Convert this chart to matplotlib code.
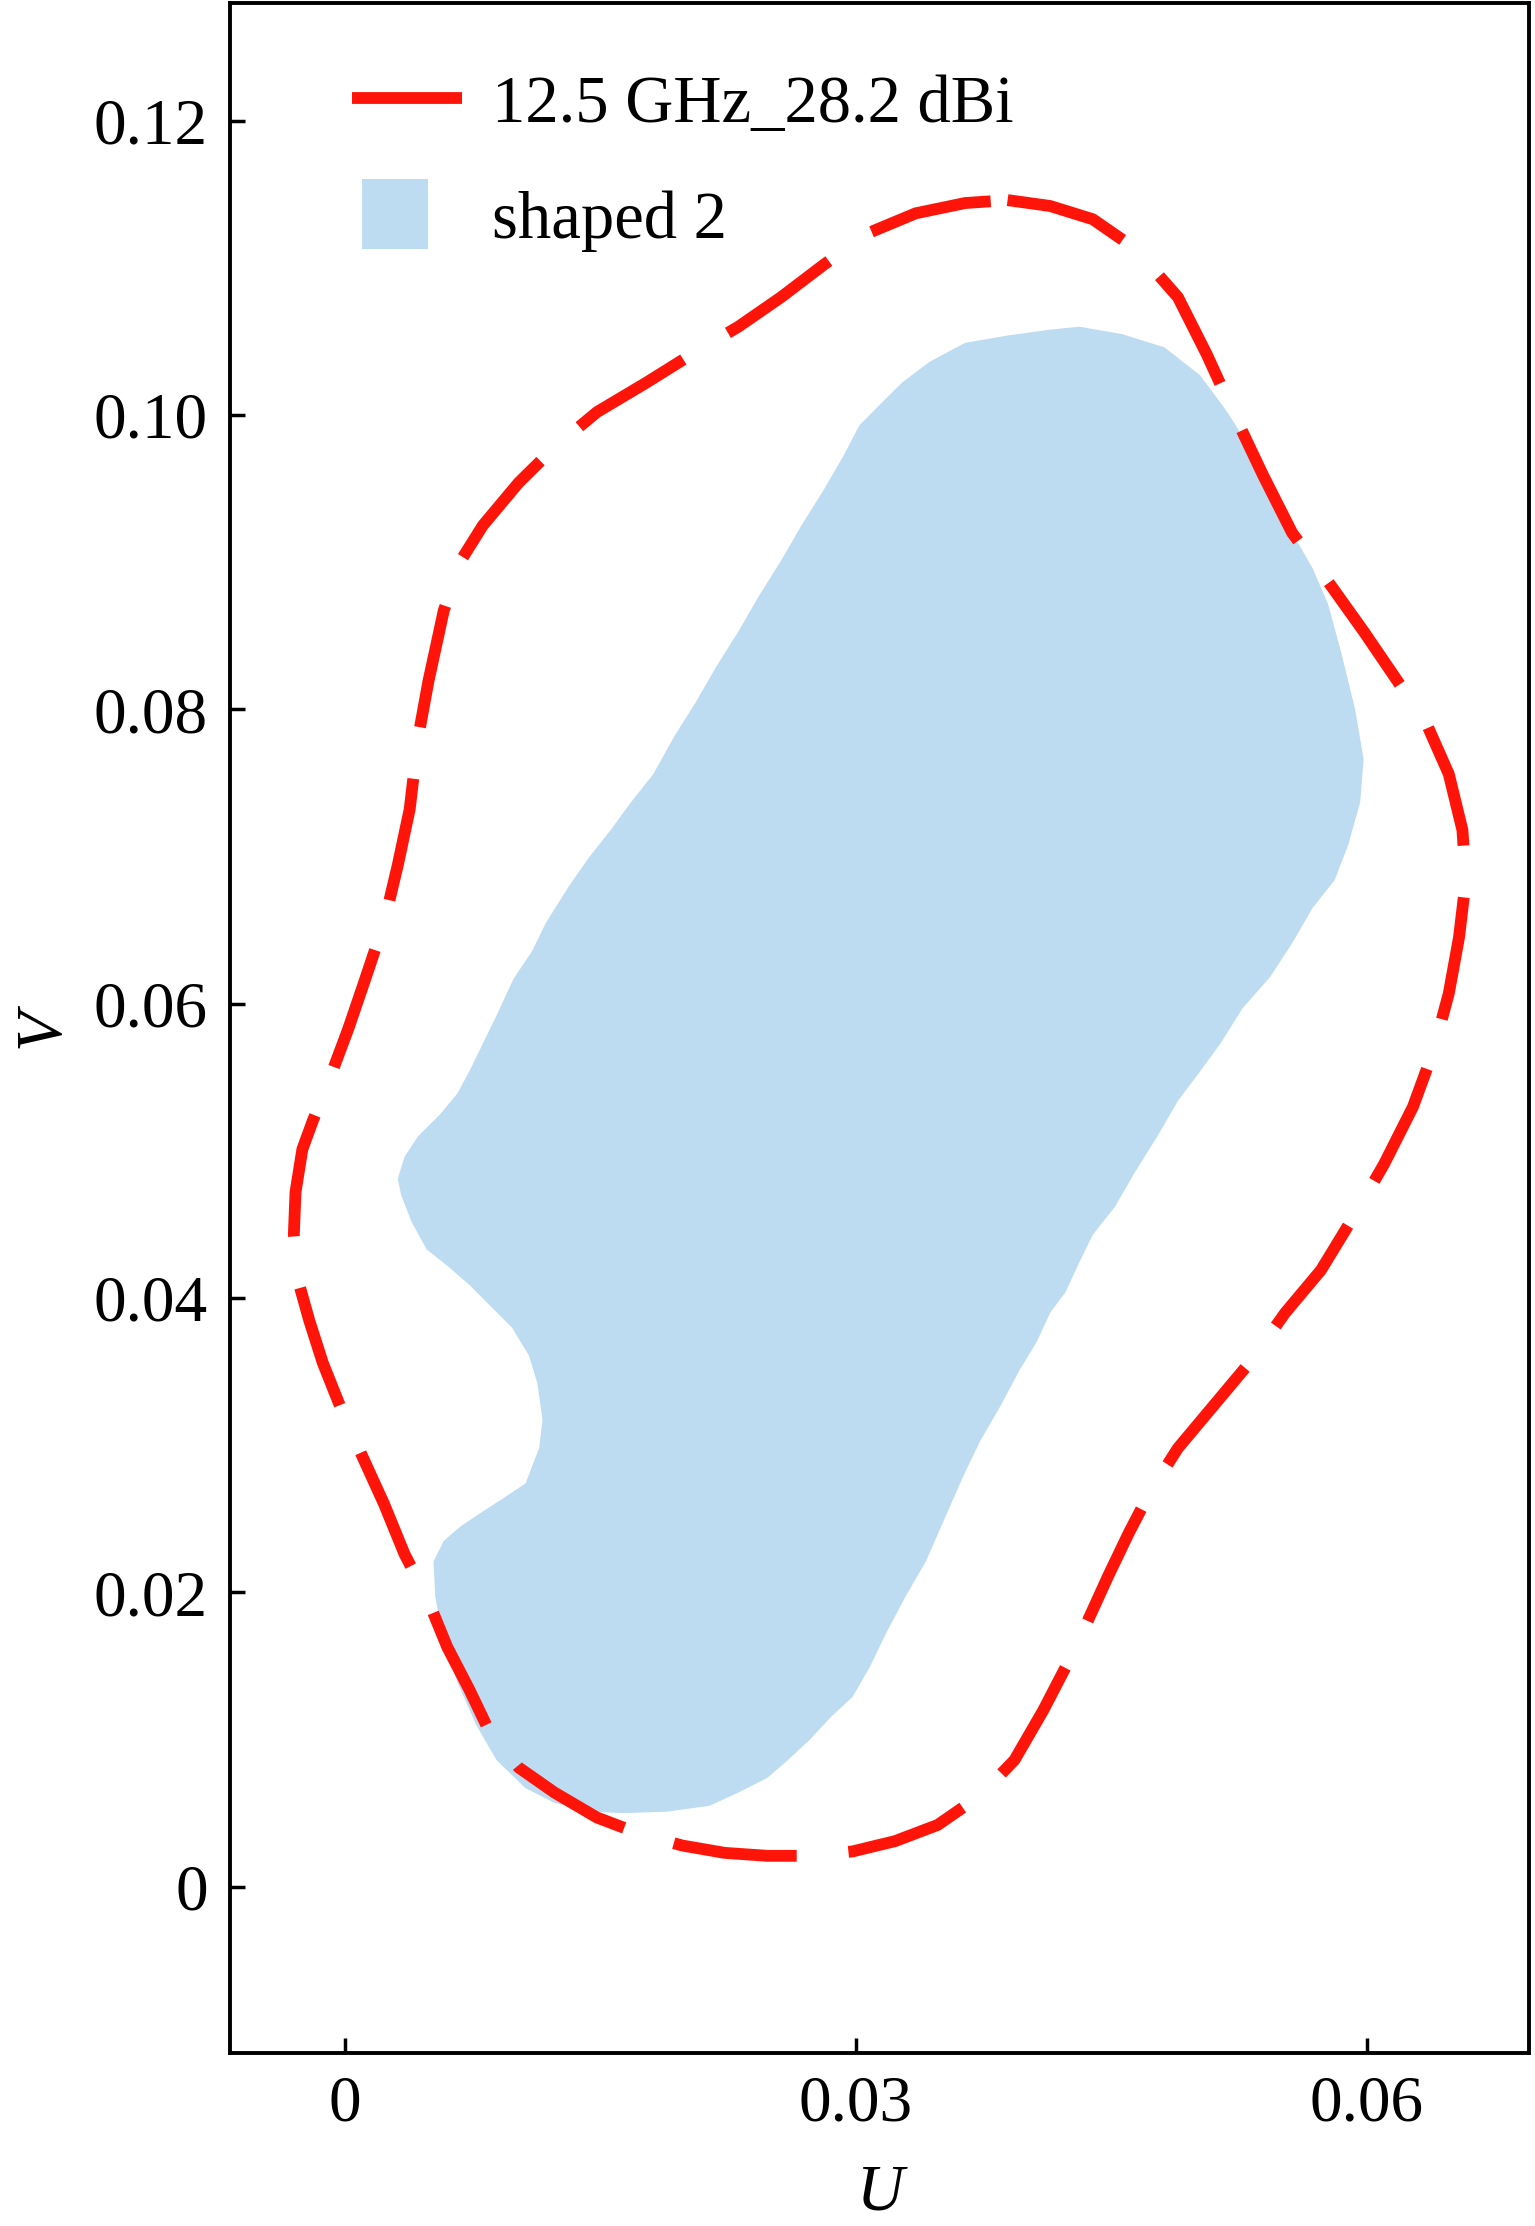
import numpy as np
import matplotlib
matplotlib.use('Agg')
import matplotlib.pyplot as plt
from matplotlib.lines import Line2D
from matplotlib.patches import Rectangle
from matplotlib.legend_handler import HandlerPatch

plt.rcParams['font.family'] = ['Liberation Serif', 'DejaVu Serif']
plt.rcParams['mathtext.fontset'] = 'stix'

# 12.5 GHz contour (U, V), traced clockwise from the top
contour_u = [0.0389, 0.0414, 0.0439, 0.0464, 0.0489, 0.0506, 0.0523, 0.0539, 0.0556, 0.0577,
             0.0598, 0.0618, 0.0635, 0.0648, 0.0656, 0.0658, 0.0654, 0.0648, 0.0639, 0.0627,
             0.0610, 0.0593, 0.0573, 0.0552, 0.0531, 0.0510, 0.0489, 0.0473, 0.0460, 0.0448,
             0.0435, 0.0423, 0.0410, 0.0393, 0.0373, 0.0348, 0.0323, 0.0298, 0.0273, 0.0248,
             0.0223, 0.0198, 0.0173, 0.0148, 0.0123, 0.0102, 0.0085, 0.0073, 0.0060, 0.0048,
             0.0035, 0.0023, 0.0010, -0.0003, -0.0013, -0.0021, -0.0028, -0.0030, -0.0029, -0.0025,
             -0.0019, -0.0009, 0.0002, 0.0012, 0.0023, 0.0031, 0.0038, 0.0043, 0.0049, 0.0058,
             0.0068, 0.0081, 0.0102, 0.0123, 0.0148, 0.0177, 0.0206, 0.0231, 0.0256, 0.0281,
             0.0306, 0.0335, 0.0364]
contour_v = [0.1146, 0.1142, 0.1133, 0.1113, 0.1080, 0.1041, 0.0998, 0.0959, 0.0920, 0.0887,
             0.0853, 0.0819, 0.0790, 0.0756, 0.0718, 0.0684, 0.0645, 0.0607, 0.0568, 0.0530,
             0.0491, 0.0457, 0.0419, 0.0390, 0.0356, 0.0327, 0.0298, 0.0269, 0.0240, 0.0211,
             0.0178, 0.0149, 0.0120, 0.0086, 0.0062, 0.0042, 0.0031, 0.0024, 0.0021, 0.0021,
             0.0023, 0.0028, 0.0036, 0.0047, 0.0064, 0.0081, 0.0105, 0.0134, 0.0163, 0.0197,
             0.0226, 0.0260, 0.0293, 0.0327, 0.0356, 0.0385, 0.0414, 0.0443, 0.0472, 0.0501,
             0.0520, 0.0549, 0.0583, 0.0617, 0.0655, 0.0694, 0.0732, 0.0781, 0.0819, 0.0867,
             0.0901, 0.0925, 0.0954, 0.0978, 0.1002, 0.1022, 0.1043, 0.1060, 0.1080, 0.1102,
             0.1123, 0.1137, 0.1144]

# shaped 2 region outline (U, V)
shaped_u = [0.0431, 0.0456, 0.0481, 0.0502, 0.0518, 0.0531, 0.0543, 0.0556, 0.0568, 0.0577,
            0.0585, 0.0593, 0.0598, 0.0596, 0.0589, 0.0581, 0.0568, 0.0556, 0.0543, 0.0527,
            0.0514, 0.0502, 0.0489, 0.0477, 0.0464, 0.0452, 0.0439, 0.0431, 0.0423, 0.0414,
            0.0406, 0.0396, 0.0385, 0.0373, 0.0363, 0.0352, 0.0341, 0.0329, 0.0318, 0.0308,
            0.0298, 0.0285, 0.0273, 0.0260, 0.0248, 0.0231, 0.0214, 0.0189, 0.0164, 0.0143,
            0.0123, 0.0106, 0.0089, 0.0077, 0.0066, 0.0058, 0.0053, 0.0052, 0.0058, 0.0068,
            0.0081, 0.0093, 0.0106, 0.0114, 0.0116, 0.0113, 0.0108, 0.0098, 0.0085, 0.0073,
            0.0060, 0.0048, 0.0039, 0.0033, 0.0031, 0.0035, 0.0043, 0.0056, 0.0066, 0.0073,
            0.0081, 0.0089, 0.0099, 0.0110, 0.0118, 0.0131, 0.0143, 0.0156, 0.0168, 0.0181,
            0.0193, 0.0206, 0.0218, 0.0231, 0.0243, 0.0256, 0.0268, 0.0281, 0.0293, 0.0302,
            0.0314, 0.0327, 0.0343, 0.0364, 0.0389, 0.0414]
shaped_v = [0.1060, 0.1055, 0.1046, 0.1027, 0.1002, 0.0978, 0.0949, 0.0920, 0.0896, 0.0872,
            0.0838, 0.0800, 0.0766, 0.0737, 0.0708, 0.0684, 0.0665, 0.0641, 0.0618, 0.0597,
            0.0573, 0.0554, 0.0534, 0.0510, 0.0486, 0.0462, 0.0443, 0.0424, 0.0404, 0.0390,
            0.0370, 0.0351, 0.0327, 0.0303, 0.0279, 0.0250, 0.0221, 0.0197, 0.0173, 0.0149,
            0.0129, 0.0115, 0.0100, 0.0086, 0.0074, 0.0064, 0.0055, 0.0051, 0.0050, 0.0051,
            0.0057, 0.0067, 0.0086, 0.0110, 0.0139, 0.0168, 0.0197, 0.0221, 0.0235, 0.0245,
            0.0255, 0.0264, 0.0274, 0.0298, 0.0317, 0.0342, 0.0361, 0.0380, 0.0395, 0.0409,
            0.0422, 0.0433, 0.0452, 0.0470, 0.0481, 0.0496, 0.0510, 0.0525, 0.0539, 0.0554,
            0.0573, 0.0592, 0.0617, 0.0636, 0.0655, 0.0679, 0.0699, 0.0718, 0.0737, 0.0756,
            0.0781, 0.0805, 0.0829, 0.0853, 0.0877, 0.0901, 0.0925, 0.0949, 0.0973, 0.0993,
            0.1007, 0.1022, 0.1036, 0.1049, 0.1054, 0.1058]

x_ticks = [0, 0.03, 0.06]
x_tick_labels = ['0', '0.03', '0.06']
y_ticks = [0, 0.02, 0.04, 0.06, 0.08, 0.10, 0.12]
y_tick_labels = ['0', '0.02', '0.04', '0.06', '0.08', '0.10', '0.12']

red = '#fe1408'
blue = '#bedcf1'

fig = plt.figure(figsize=(15.35, 22.26), dpi=100)
ax = fig.add_axes([0.1498, 0.0777, 0.8462, 0.921])

ax.fill(shaped_u, shaped_v, color=blue, lw=0, zorder=1)
cu = np.append(contour_u, contour_u[0])
cv = np.append(contour_v, contour_v[0])
ax.plot(cu, cv, color=red, lw=8.5, dashes=(10.5, 4.4), dash_capstyle='butt',
        solid_joinstyle='round', dash_joinstyle='round', zorder=2)

ax.set_xlim(-0.00675, 0.0695)
ax.set_ylim(-0.0113, 0.128)
ax.set_xticks(x_ticks)
ax.set_xticklabels(x_tick_labels)
ax.set_yticks(y_ticks)
ax.set_yticklabels(y_tick_labels)
ax.tick_params(direction='in', length=11, width=2.5, labelsize=47, pad=16)
for s in ax.spines.values():
    s.set_linewidth(2.8)

ax.set_xlabel('U', fontsize=47, fontstyle='italic', labelpad=21)
ax.set_ylabel('V', fontsize=47, fontstyle='italic', labelpad=15)


def make_square(legend, orig_handle, xdescent, ydescent, width, height, fontsize):
    w = 0.6 * width
    h = 1.5 * height
    return Rectangle((xdescent + 0.09 * width, ydescent + (height - h) / 2), w, h)


line_handle = Line2D([], [], color=red, lw=8.5, solid_capstyle='butt')
patch_handle = Rectangle((0, 0), 1, 1, facecolor=blue, edgecolor='none')
ax.legend([line_handle, patch_handle], ['12.5 GHz_28.2 dBi', 'shaped 2'],
          loc='upper left', bbox_to_anchor=(0.094, 0.965), frameon=False, fontsize=48,
          handlelength=1.65, handletextpad=0.45, labelspacing=0.82,
          borderaxespad=0, borderpad=0,
          handler_map={Rectangle: HandlerPatch(patch_func=make_square)})

fig.savefig('out.png', dpi=100)
